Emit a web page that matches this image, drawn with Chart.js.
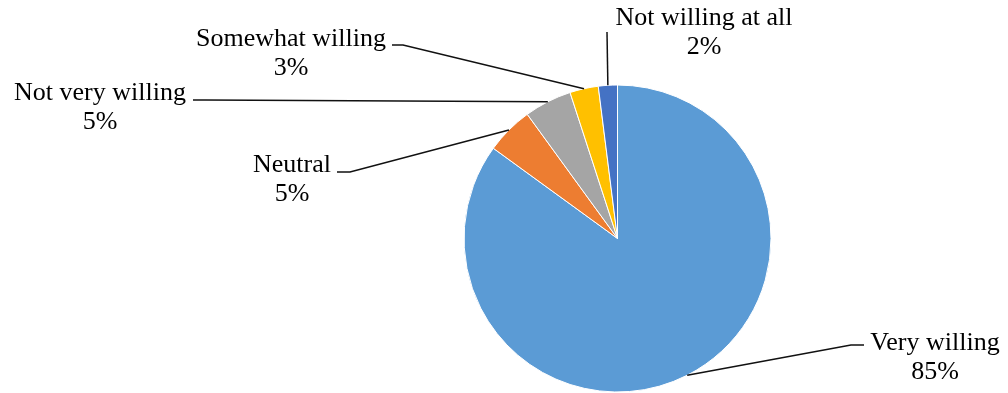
<!DOCTYPE html>
<html lang="en">
<head>
<meta charset="utf-8">
<title>Willingness</title>
<script src="https://cdn.jsdelivr.net/npm/chart.js"></script>
<style>
  html,body{margin:0;padding:0;background:#fff;}
  #wrap{position:relative;width:1008px;height:393px;}
</style>
</head>
<body>
<div id="wrap"><canvas id="pie"></canvas></div>

<script>
/* ── data ─────────────────────────────────────────────── */
const categories = ['Very willing', 'Neutral', 'Not very willing', 'Somewhat willing', 'Not willing at all'];
const shares     = [85, 5, 5, 3, 2];          // percent
const colours    = ['#5B9BD5', '#ED7D31', '#A5A5A5', '#FFC000', '#4472C4'];

/* label placement: text centre / first baseline, and leader elbow */
const labelSpots = [
  {x: 935, y: 350, elbow: [851, 345], tail: 864},
  {x: 292, y: 172, elbow: [350, 172], tail: 337},
  {x: 100, y: 100, elbow: [205, 100], tail: 193},
  {x: 291, y: 46,  elbow: [403, 45],  tail: 392},
  {x: 704, y: 25,  elbow: [607, 32],  tail: null}
];

/* ── labels with leader lines ─────────────────────────── */
const leaderLabels = {
  id: 'leaderLabels',
  afterDatasetsDraw(chart){
    const ctx = chart.ctx;
    const arcs = chart.getDatasetMeta(0).data;
    ctx.save();
    ctx.strokeStyle = '#111';
    ctx.lineWidth = 1.5;
    arcs.forEach((arc, i) => {
      const {x, y, startAngle, endAngle, outerRadius} = arc.getProps(['x','y','startAngle','endAngle','outerRadius'], true);
      const mid = (startAngle + endAngle) / 2;
      const px = x + Math.cos(mid) * outerRadius;
      const py = y + Math.sin(mid) * outerRadius;
      const s = labelSpots[i];
      ctx.beginPath();
      ctx.moveTo(px, py);
      ctx.lineTo(s.elbow[0], s.elbow[1]);
      if (s.tail !== null) ctx.lineTo(s.tail, s.elbow[1]);
      ctx.stroke();
    });
    ctx.fillStyle = '#000';
    ctx.font = '26px "Liberation Serif", "Times New Roman", serif';
    ctx.textAlign = 'center';
    ctx.textBaseline = 'alphabetic';
    categories.forEach((c, i) => {
      const s = labelSpots[i];
      ctx.fillText(c, s.x, s.y);
      ctx.fillText(shares[i] + '%', s.x, s.y + 29);
    });
    ctx.restore();
  }
};

new Chart(document.getElementById('pie'), {
  type: 'pie',
  data: {
    labels: categories,
    datasets: [{
      data: shares,
      backgroundColor: colours,
      borderColor: '#fff',
      borderWidth: 1,
      hoverOffset: 0
    }]
  },
  options: {
    responsive: true,
    maintainAspectRatio: false,
    animation: false,
    radius: 153.5,
    layout: {padding: {left: 464, right: 237, top: 85, bottom: 1}},
    plugins: {legend: {display: false}, tooltip: {enabled: false}}
  },
  plugins: [leaderLabels]
});
</script>
</body>
</html>
